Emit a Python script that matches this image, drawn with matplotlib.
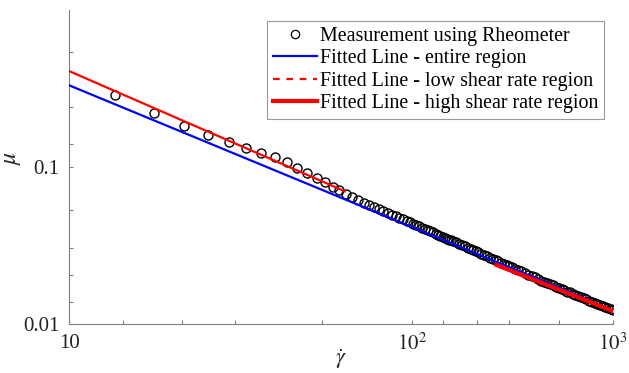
import numpy as np
import matplotlib
matplotlib.use("Agg")
import matplotlib.pyplot as plt
from matplotlib.lines import Line2D
from matplotlib.ticker import NullFormatter

plt.rcParams['font.family'] = ['Liberation Serif', 'DejaVu Serif']
plt.rcParams['mathtext.fontset'] = 'stix'

# shear rate / viscosity measured with the rheometer
gamma_meas = [12.5, 15.4, 18.2, 21.1, 24.0, 26.8, 29.8, 32.7, 35.6, 38.4, 41.5, 44.5, 47.4, 50.6,
              53, 56, 59, 62, 65, 68, 71, 74, 77, 80, 83, 86, 89, 92, 95, 98, 101, 104, 107, 110,
              113, 116, 119, 122, 125, 128, 131, 134, 137, 140, 143, 146, 149,
              153, 158, 163, 168, 173, 178, 183, 188, 193, 198, 205, 212, 219, 226, 233, 240,
              248, 256, 264, 272, 280, 290, 300,
              312, 325, 338, 352, 366, 380, 395, 410, 425, 440, 456, 472, 490, 508, 526, 545,
              565, 585, 605, 625, 650, 675, 700, 725, 750, 780, 810, 840, 870, 900, 935, 970, 1000]
mu_meas = [0.289, 0.221, 0.182, 0.159, 0.144, 0.133, 0.123, 0.115, 0.107, 0.0986, 0.0921, 0.0856, 0.0799, 0.0746,
           0.0710, 0.0673, 0.0643, 0.0617, 0.0594, 0.0573, 0.0555, 0.0538, 0.0523, 0.0509, 0.0496, 0.0484,
           0.0473, 0.0463, 0.0453, 0.0444, 0.0435, 0.0427, 0.0418, 0.0411,
           0.0403, 0.0396, 0.0389, 0.0383, 0.0377, 0.0371, 0.0366, 0.0360, 0.0355, 0.0350, 0.0345, 0.0341, 0.0336,
           0.0331, 0.0324, 0.0318, 0.0312, 0.0306, 0.0301, 0.0296, 0.0291, 0.0286, 0.0281, 0.0276, 0.0270,
           0.0265, 0.0260, 0.0255, 0.0251, 0.0246, 0.0242, 0.0237, 0.0233, 0.0229, 0.0225, 0.0221,
           0.0216, 0.0211, 0.0206, 0.0202, 0.0198, 0.0194, 0.0189, 0.0186, 0.0182, 0.0179, 0.0176, 0.0173,
           0.0170, 0.0167, 0.0164, 0.0161, 0.0159, 0.0156, 0.0154, 0.0151, 0.0149, 0.0146, 0.0144, 0.0141,
           0.0139, 0.0137, 0.0134, 0.0132, 0.0130, 0.0128, 0.0126, 0.0124, 0.0122]

# fitted lines (end points)
gamma_fit_all = [10, 1000]
mu_fit_all = [0.331, 0.01227]
gamma_fit_low = [10, 55.6]
mu_fit_low = [0.4077, 0.0701]
gamma_fit_high = [235, 1000]
mu_fit_high = [0.0238, 0.0121]

labels = ['Measurement using Rheometer', 'Fitted Line - entire region',
          'Fitted Line - low shear rate region', 'Fitted Line - high shear rate region']

x_major = [10, 100, 1000]
x_major_labels = ['10', '$10^2$', '$10^3$']
x_minor = [13, 18, 25, 46.5, 134, 190, 270, 493]
y_major = [0.01, 0.1]
y_major_labels = ['0.01', '0.1']
y_minor = [0.0139, 0.0205, 0.0303, 0.0536, 0.141, 0.241, 0.538]


def fwd(x):
    with np.errstate(divide='ignore', invalid='ignore'):
        return np.log10(np.log10(x))


def inv(y):
    return 10 ** (10 ** y)


fig = plt.figure(figsize=(6.29, 3.73), dpi=100)
ax = fig.add_axes([0.1102, 0.1314, 0.8639, 0.8418])

ax.plot(gamma_meas, mu_meas, 'o', ms=6.5, mfc='none', mec='black', mew=1.0, zorder=2)
ax.plot(gamma_fit_all, mu_fit_all, color='#0000ff', lw=1.6, zorder=3)
ax.plot(gamma_fit_low, mu_fit_low, color='#ff0000', lw=1.6, zorder=3)
ax.plot(gamma_fit_high, mu_fit_high, color='#ff0000', lw=3, zorder=4)

ax.set_xscale('function', functions=(fwd, inv))
ax.set_yscale('log')
ax.set_xlim(10, 1000)
ax.set_ylim(0.01, 1.0)

ax.set_xticks(x_major, x_major_labels)
ax.set_xticks(x_minor, minor=True)
ax.set_yticks(y_major, y_major_labels)
ax.set_yticks(y_minor, minor=True)
ax.xaxis.set_minor_formatter(NullFormatter())
ax.yaxis.set_minor_formatter(NullFormatter())
ax.tick_params(which='both', direction='in', length=3, width=0.8, color='#808080',
               labelsize=15, labelcolor='#222222', pad=7)

for s in ['top', 'right']:
    ax.spines[s].set_visible(False)
for s in ['left', 'bottom']:
    ax.spines[s].set_color('#808080')
    ax.spines[s].set_linewidth(0.8)

ax.set_xlabel(r'$\dot{\gamma}$', fontsize=16, color='#222222')
ax.xaxis.set_label_coords(0.5, -0.075)
ax.set_ylabel(r'$\mu$', fontsize=17, color='#222222')
ax.yaxis.set_label_coords(-0.085, 0.53)

handles = [Line2D([], [], ls='none', marker='o', ms=6, mfc='none', mec='black', mew=0.9),
           Line2D([], [], color='#0000ff', lw=1.6),
           Line2D([], [], color='#ff0000', lw=1.6, ls=(0, (3, 3))),
           Line2D([], [], color='#ff0000', lw=3)]
leg = fig.legend(handles, labels, loc='upper right', bbox_to_anchor=(604.3 / 629, 1 - 21 / 373),
                 bbox_transform=fig.transFigure, borderaxespad=0, fontsize=14.4,
                 handlelength=2.2, handletextpad=0.17, labelspacing=0.18, borderpad=0.28,
                 fancybox=False, framealpha=1)
leg.get_frame().set_edgecolor('#999999')
leg.get_frame().set_linewidth(0.8)

fig.savefig('out.png', dpi=100)
